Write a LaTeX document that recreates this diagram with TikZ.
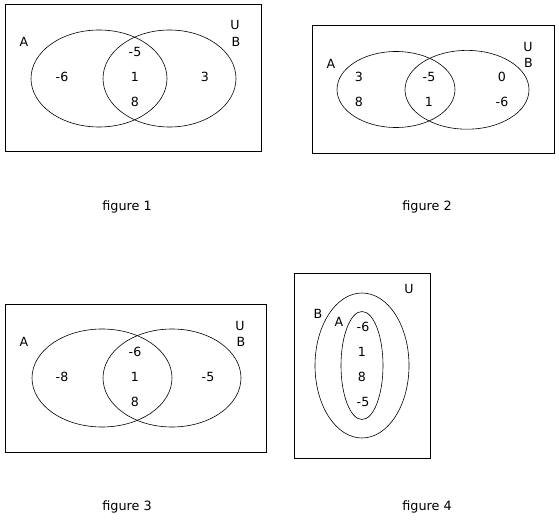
\documentclass[tikz,border=0pt]{standalone}
\usepackage{fontspec}
\setmainfont{DejaVu Sans}
\begin{document}
\begin{tikzpicture}[x=1pt,y=-1pt,
  box/.style={draw=black,line width=1pt},
  set/.style={draw=black,line width=0.6pt},
  lbl/.style={inner sep=0pt,font=\fontsize{12.6}{14}\selectfont},
  figcaption/.style={inner sep=0pt,font=\fontsize{12.8}{14}\selectfont}]
\useasboundingbox[fill=white] (0,0) rectangle (559,521);
% figure 1
\draw[box] (5,5) rectangle (261,152);
\draw[set] (99,78.5) ellipse [x radius=68,y radius=48.5];
\draw[set] (169.5,78.5) ellipse [x radius=66.5,y radius=48.5];
\node[lbl] (a1) at (24,42) {A};
\node[lbl] (u1) at (235,25) {U};
\node[lbl] (b1) at (236,42) {B};
\node[lbl] (n1a) at (62,77) {-6};
\node[lbl] (n1b) at (135,52) {-5};
\node[lbl] (n1c) at (135,77) {1};
\node[lbl] (n1d) at (135,102) {8};
\node[lbl] (n1e) at (205,77) {3};
\node[figcaption] (c1) at (127,207) {figure 1};
% figure 2
\draw[box] (312,26) rectangle (554,154);
\draw[set] (396,89.5) ellipse [x radius=59,y radius=38];
\draw[set] (467,89.8) ellipse [x radius=62,y radius=39.4];
\node[lbl] (a2) at (331,64) {A};
\node[lbl] (u2) at (528,47) {U};
\node[lbl] (b2) at (528.5,63) {B};
\node[lbl] (n2a) at (359,77) {3};
\node[lbl] (n2b) at (359,102) {8};
\node[lbl] (n2c) at (429,77) {-5};
\node[lbl] (n2d) at (429,102) {1};
\node[lbl] (n2e) at (502,77) {0};
\node[lbl] (n2f) at (502,102) {-6};
\node[figcaption] (c2) at (427,207) {figure 2};
% figure 3
\draw[box] (5,304) rectangle (266,452);
\draw[set] (102,378) ellipse [x radius=70,y radius=49];
\draw[set] (172,378) ellipse [x radius=69,y radius=49];
\node[lbl] (a3) at (24,342) {A};
\node[lbl] (u3) at (240,326) {U};
\node[lbl] (b3) at (241,342) {B};
\node[lbl] (n3a) at (62,377) {-8};
\node[lbl] (n3b) at (135,352) {-6};
\node[lbl] (n3c) at (135,377) {1};
\node[lbl] (n3d) at (135,402) {8};
\node[lbl] (n3e) at (208,377) {-5};
\node[figcaption] (c3) at (127,507) {figure 3};
% figure 4
\draw[box] (294,273) rectangle (430,458);
\draw[set] (362,365.5) ellipse [x radius=47,y radius=72.5];
\draw[set] (362,365.5) ellipse [x radius=21,y radius=54];
\node[lbl] (u4) at (409,289) {U};
\node[lbl] (b4) at (318,314) {B};
\node[lbl] (a4) at (339,322) {A};
\node[lbl] (n4a) at (363,327) {-6};
\node[lbl] (n4b) at (362,352) {1};
\node[lbl] (n4c) at (362,377) {8};
\node[lbl] (n4d) at (363,402) {-5};
\node[figcaption] (c4) at (427,507) {figure 4};
\end{tikzpicture}
\end{document}
